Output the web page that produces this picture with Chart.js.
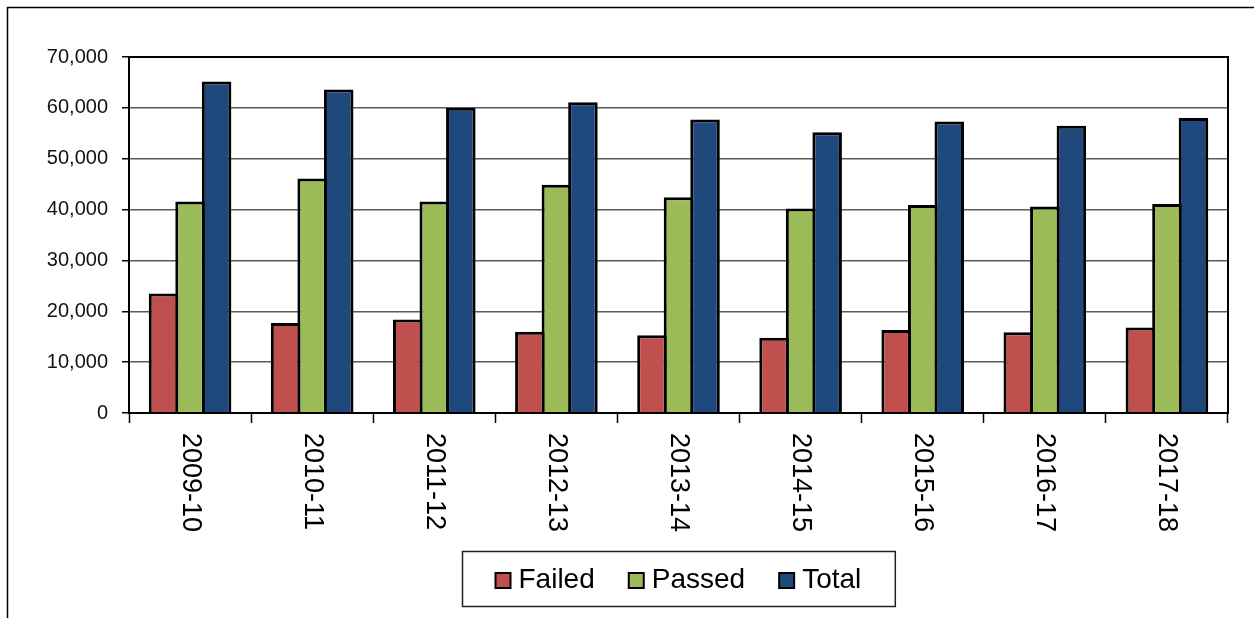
<!DOCTYPE html>
<html>
<head>
<meta charset="utf-8">
<script src="https://cdn.jsdelivr.net/npm/chart.js@4"></script>
<style>
  html, body { margin: 0; padding: 0; background: #fff; }
  canvas { display: block; }
</style>
</head>
<body>
<canvas id="chart" width="1254" height="618"></canvas>
<script>
const categories = ['2009-10', '2010-11', '2011-12', '2012-13', '2013-14', '2014-15', '2015-16', '2016-17', '2017-18']
const failed = [23500, 17700, 18400, 16000, 15300, 14800, 16300, 15900, 16800]
const passed = [41600, 46100, 41600, 44900, 42400, 40200, 40900, 40600, 41100]
const total  = [65200, 63600, 60000, 61100, 57700, 55200, 57300, 56500, 58000]
const seriesNames = ['Failed', 'Passed', 'Total']
const yMin = 0
const yMax = 70000
const yStep = 10000

const COLORS = {
  failed: '#C0504D',
  passed: '#9BBB59',
  total:  '#1F497D',
}
const FONT = "'Liberation Sans', Arial, sans-serif"

// outer frame of the original sheet object (runs off the right/bottom edge)
const framePlugin = {
  id: 'frame',
  beforeDraw(chart) {
    const { ctx, width, height } = chart
    ctx.save()
    ctx.strokeStyle = '#000'
    ctx.lineWidth = 1.5
    ctx.beginPath()
    ctx.moveTo(7.5, height + 2)
    ctx.lineTo(7.5, 7.5)
    ctx.lineTo(width + 2, 7.5)
    ctx.stroke()
    ctx.restore()
  }
}

// plot area border + rotated category labels + boxed legend
const decorPlugin = {
  id: 'decor',
  afterDatasetsDraw(chart) {
    const { ctx, chartArea: a } = chart
    ctx.save()
    ctx.strokeStyle = '#000'
    ctx.lineWidth = 2
    ctx.strokeRect(a.left, a.top, a.right - a.left, a.bottom - a.top)
    ctx.restore()
  },
  afterDraw(chart) {
    const { ctx, chartArea: a } = chart
    const xs = chart.scales.x

    // category labels, reading top to bottom
    ctx.save()
    ctx.fillStyle = '#000'
    ctx.font = `27px ${FONT}`
    ctx.textAlign = 'left'
    ctx.textBaseline = 'middle'
    chart.data.labels.forEach((lab, i) => {
      const x = xs.getPixelForValue(i)
      ctx.save()
      ctx.translate(x, a.bottom + 20)
      ctx.rotate(Math.PI / 2)
      ctx.fillText(lab, 0, 0)
      ctx.restore()
    })
    ctx.restore()

    // legend
    ctx.save()
    ctx.font = `28px ${FONT}`
    ctx.textBaseline = 'middle'
    const sets = chart.data.datasets
    const markerGap = 23, itemGap = 34, pad = 33
    const widths = sets.map(ds => ctx.measureText(ds.label).width)
    const content = widths.reduce((s, w) => s + markerGap + w, 0) + itemGap * (sets.length - 1)
    const cx = (a.left + a.right) / 2
    const boxW = content + pad * 2 + 1
    const boxL = Math.round(cx - boxW / 2) + 0.5
    const boxT = 551.5, boxH = 55
    ctx.strokeStyle = '#222'
    ctx.lineWidth = 1.5
    ctx.strokeRect(boxL, boxT, boxW, boxH)
    let x = boxL + pad
    const cy = boxT + boxH / 2 + 1
    sets.forEach((ds, i) => {
      ctx.fillStyle = ds.backgroundColor
      ctx.fillRect(x, cy - 7, 15, 15)
      ctx.strokeStyle = '#000'
      ctx.lineWidth = 2
      ctx.strokeRect(x, cy - 7, 15, 15)
      ctx.fillStyle = '#000'
      ctx.fillText(ds.label, x + markerGap, cy)
      x += markerGap + widths[i] + itemGap
    })
    ctx.restore()
  }
}

// bars a touch wider than their slot so neighbouring borders overlap into one line
const barStyle = color => ({
  backgroundColor: color,
  borderColor: '#000',
  borderWidth: 3,
  borderSkipped: 'start',
  barPercentage: 1.113,
  categoryPercentage: 0.652,
})

new Chart(document.getElementById('chart'), {
  type: 'bar',
  data: {
    labels: categories,
    datasets: [
      { label: seriesNames[0], data: failed, ...barStyle(COLORS.failed) },
      { label: seriesNames[1], data: passed, ...barStyle(COLORS.passed) },
      { label: seriesNames[2], data: total,  ...barStyle(COLORS.total) },
    ]
  },
  options: {
    responsive: false,
    animation: false,
    layout: { padding: { left: 0, top: 57, right: 26, bottom: 0 } },
    plugins: {
      legend: { display: false },
      title: { display: false },
      tooltip: { enabled: false },
    },
    scales: {
      x: {
        offset: true,
        afterFit(scale) { scale.height = 205 },
        ticks: { display: false },
        grid: {
          display: true,
          drawOnChartArea: false,
          offset: true,
          tickLength: 10,
          tickColor: '#000',
          tickWidth: 1.5,
        },
        border: { display: true, color: '#000', width: 2 },
      },
      y: {
        min: yMin,
        max: yMax,
        afterFit(scale) { scale.width = 129 },
        ticks: {
          stepSize: yStep,
          padding: 14,
          color: '#111',
          font: { family: FONT, size: 20 },
          callback: v => v.toLocaleString('en-US'),
        },
        grid: {
          color: '#5a5a5a',
          lineWidth: 1.5,
          tickLength: 7,
          tickColor: '#000',
          tickWidth: 1.5,
        },
        border: { display: true, color: '#000', width: 2 },
      }
    }
  },
  plugins: [framePlugin, decorPlugin]
})
</script>
</body>
</html>
